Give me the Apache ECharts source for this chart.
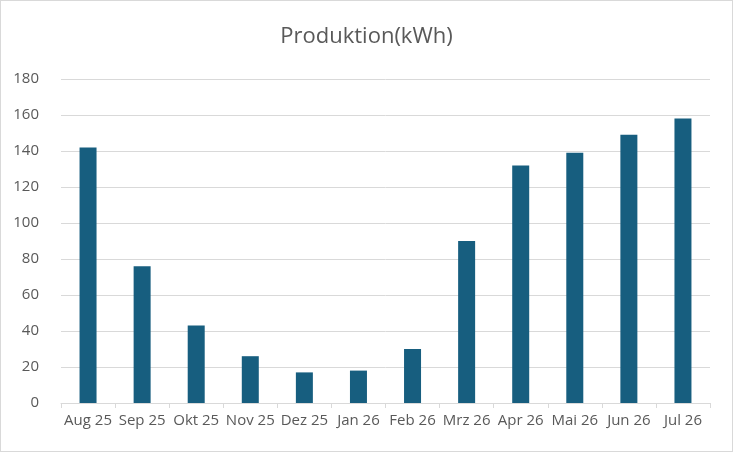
<!DOCTYPE html>
<html><head><meta charset="utf-8">
<script src="https://cdn.jsdelivr.net/npm/echarts@6/dist/echarts.min.js"></script>
<style>body{margin:0}#c{width:731px;height:450px;border:1px solid #d9d9d9}</style>
</head><body><div id="c"></div>
<script>
var months = ['Aug 25','Sep 25','Okt 25','Nov 25','Dez 25','Jan 26','Feb 26','Mrz 26','Apr 26','Mai 26','Jun 26','Jul 26'];
var produktion = [142, 76, 43, 26, 17, 18, 30, 90, 132, 139, 149, 158];

var chart = echarts.init(document.getElementById('c'));
chart.setOption({
    title: {
        text: 'Produktion(kWh)',
        left: 'center',
        top: 20,
        textStyle: {color: '#595959', fontSize: 22, fontWeight: 'normal', fontFamily: 'Open Sans'}
    },
    grid: {left: 60, right: 22, top: 78, bottom: 48},
    xAxis: {
        type: 'category',
        data: months,
        axisLine: {lineStyle: {color: '#d9d9d9'}},
        axisTick: {show: true, alignWithLabel: false, lineStyle: {color: '#d9d9d9'}},
        axisLabel: {color: '#595959', fontSize: 15, fontFamily: 'Open Sans', interval: 0, margin: 10}
    },
    yAxis: {
        type: 'value',
        min: 0, max: 180, interval: 20,
        axisLabel: {color: '#595959', fontSize: 15, fontFamily: 'Open Sans', margin: 22},
        splitLine: {lineStyle: {color: '#d9d9d9'}}
    },
    series: [{
        type: 'bar',
        data: produktion,
        barWidth: 17,
        itemStyle: {color: '#175e7f'}
    }]
});
</script></body></html>
